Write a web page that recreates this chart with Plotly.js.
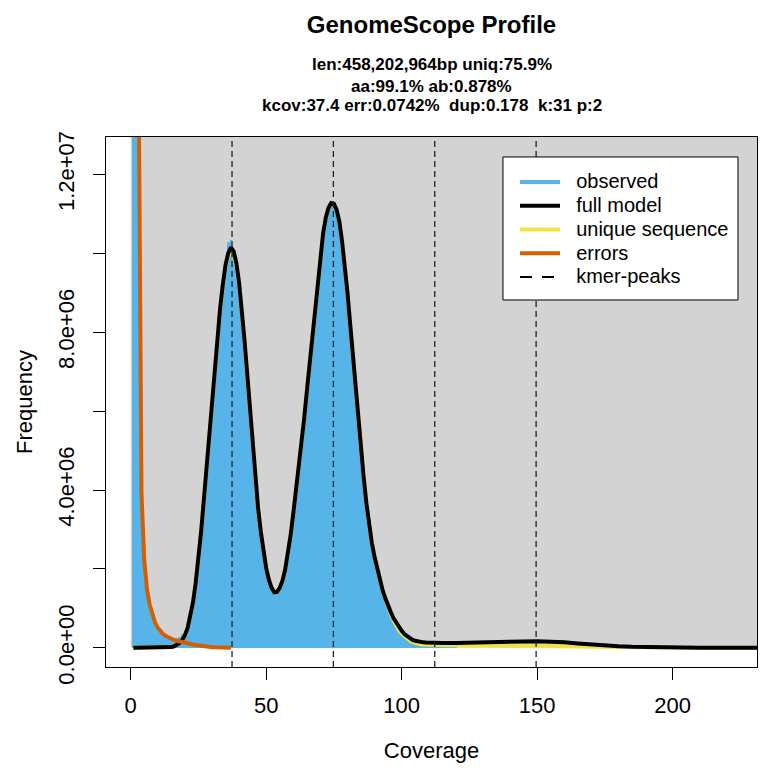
<!DOCTYPE html>
<html>
<head>
<meta charset="utf-8">
<script src="https://cdn.plot.ly/plotly-3.0.1.min.js"></script>
<style>html,body{margin:0;padding:0;background:#fff}#chart{width:770px;height:777px}</style>
</head>
<body>
<div id="chart"></div>
<script>
// ---- data ----
const coverage = [1,2,3,4,5,6,7,8,9,10,11,12,13,14,15,16,17,18,19,20,21,22,23,24,25,26,27,28,29,30,31,32,33,34,35,36,37,38,39,40,41,42,43,44,45,46,47,48,49,50,51,52,53,54,55,56,57,58,59,60,61,62,63,64,65,66,67,68,69,70,71,72,73,74,75,76,77,78,79,80,81,82,83,84,85,86,87,88,89,90,91,92,93,94,95,96,97,98,99,100,101,102,103,104,105,106,107,108,109,110,111,112,113,114,115,116,117,118,119,120];
const observed = [1.5e8,3.6e7,1.45e7,4.0e6,2.3e6,1.52e6,1.11e6,8.3e5,6.4e5,5.1e5,4.2e5,3.5e5,3.0e5,2.65e5,2.4e5,2.3e5,2.4e5,2.8e5,3.4e5,4.5e5,6.1e5,8.8e5,1.23e6,1.72e6,2.31e6,3.0e6,3.79e6,4.63e6,5.47e6,6.31e6,7.11e6,7.9e6,8.6e6,9.2e6,9.72e6,1.028e7,1.034e7,1.003e7,9.73e6,9.23e6,8.58e6,7.78e6,6.93e6,6.03e6,5.18e6,4.28e6,3.53e6,2.93e6,2.43e6,2.0e6,1.7e6,1.5e6,1.39e6,1.4e6,1.5e6,1.68e6,1.96e6,2.33e6,2.83e6,3.38e6,3.93e6,4.48e6,5.08e6,5.78e6,6.48e6,7.18e6,7.88e6,8.53e6,9.18e6,9.83e6,1.048e7,1.088e7,1.113e7,1.125e7,1.123e7,1.108e7,1.078e7,1.028e7,9.73e6,8.98e6,8.18e6,7.38e6,6.53e6,5.78e6,5.03e6,4.28e6,3.63e6,3.08e6,2.63e6,2.28e6,1.98e6,1.68e6,1.43e6,1.23e6,1.03e6,8.8e5,7.3e5,6.1e5,5.0e5,4.1e5,3.35e5,2.75e5,2.3e5,1.95e5,1.72e5,1.55e5,1.45e5,1.37e5,1.32e5,1.28e5,1.26e5,1.25e5,1.24e5,1.24e5,1.23e5,1.23e5,1.22e5,1.22e5,1.22e5,1.22e5];

const modelX = [1,2,3,4,5,6,7,8,9,10,11,12,13,14,15,16,17,18,19,20,21,22,23,24,25,26,27,28,29,30,31,32,33,34,35,36,37,38,39,40,41,42,43,44,45,46,47,48,49,50,51,52,53,54,55,56,57,58,59,60,61,62,63,64,65,66,67,68,69,70,71,72,73,74,75,76,77,78,79,80,81,82,83,84,85,86,87,88,89,90,91,92,93,94,95,96,97,98,99,100,101,102,103,104,105,106,107,108,109,110,115,120,125,130,135,140,145,150,155,160,165,170,175,180,185,190,195,200,210,220,230,240];
const fullModel = [0,0,0,0,0,0,0,0,0,0,0,0,5e3,1e4,2e4,4e4,7e4,1.2e5,2.0e5,3.2e5,5.0e5,7.8e5,1.15e6,1.65e6,2.25e6,2.95e6,3.75e6,4.6e6,5.45e6,6.3e6,7.1e6,7.9e6,8.6e6,9.2e6,9.7e6,1.0e7,1.015e7,1.005e7,9.75e6,9.25e6,8.6e6,7.8e6,6.95e6,6.05e6,5.2e6,4.3e6,3.55e6,2.95e6,2.45e6,2.02e6,1.72e6,1.52e6,1.41e6,1.42e6,1.52e6,1.7e6,1.98e6,2.35e6,2.85e6,3.4e6,3.95e6,4.5e6,5.1e6,5.8e6,6.5e6,7.2e6,7.9e6,8.55e6,9.2e6,9.85e6,1.05e7,1.09e7,1.115e7,1.127e7,1.125e7,1.11e7,1.08e7,1.03e7,9.75e6,9.0e6,8.2e6,7.4e6,6.55e6,5.8e6,5.05e6,4.3e6,3.65e6,3.1e6,2.65e6,2.3e6,2.0e6,1.7e6,1.45e6,1.25e6,1.05e6,9.0e5,7.5e5,6.3e5,5.2e5,4.3e5,3.5e5,2.9e5,2.4e5,2.0e5,1.8e5,1.6e5,1.5e5,1.4e5,1.35e5,1.3e5,1.26e5,1.25e5,1.27e5,1.32e5,1.4e5,1.5e5,1.6e5,1.65e5,1.6e5,1.4e5,1.1e5,8e4,5.5e4,3.8e4,2.5e4,1.6e4,1.1e4,8e3,4e3,2e3,1e3,5e2];
const uniqueSeq = [0,0,0,0,0,0,0,0,0,0,0,0,5e3,1e4,2e4,4e4,7e4,1.2e5,2.0e5,3.2e5,5.0e5,7.8e5,1.15e6,1.65e6,2.25e6,2.95e6,3.75e6,4.6e6,5.45e6,6.3e6,7.1e6,7.9e6,8.58e6,9.16e6,9.65e6,9.93e6,1.006e7,9.97e6,9.68e6,9.2e6,8.57e6,7.78e6,6.94e6,6.05e6,5.2e6,4.3e6,3.55e6,2.95e6,2.45e6,2.02e6,1.72e6,1.52e6,1.41e6,1.42e6,1.52e6,1.7e6,1.98e6,2.35e6,2.85e6,3.4e6,3.95e6,4.5e6,5.1e6,5.8e6,6.5e6,7.2e6,7.9e6,8.55e6,9.2e6,9.85e6,1.05e7,1.09e7,1.115e7,1.127e7,1.125e7,1.11e7,1.08e7,1.03e7,9.75e6,9.0e6,8.2e6,7.4e6,6.55e6,5.8e6,5.05e6,4.3e6,3.65e6,3.1e6,2.65e6,2.3e6,2.0e6,1.7e6,1.45e6,1.24e6,1.01e6,8.5e5,6.9e5,5.6e5,4.5e5,3.6e5,2.9e5,2.3e5,1.85e5,1.5e5,1.25e5,1.05e5,9e4,8.2e4,7.7e4,7.4e4,7e4,6.8e4,6.7e4,6.6e4,6.5e4,6.4e4,6.2e4,6e4,5.5e4,4.5e4,3.5e4,2.8e4,2.2e4,1.7e4,1.3e4,1e4,8e3,6e3,3e3,1.5e3,8e2,4e2];

const errX = [1,2,3,4,5,6,7,8,9,10,11,12,13,14,15,16,17,18,19,20,21,22,23,24,25,26,27,28,29,30,31,32,33,34,35,36,37];
const errors = [1.2e8,3.5e7,1.4e7,3.9e6,2.25e6,1.5e6,1.1e6,8.2e5,6.4e5,5.1e5,4.2e5,3.5e5,3.0e5,2.6e5,2.3e5,2.0e5,1.8e5,1.6e5,1.45e5,1.3e5,1.15e5,1.0e5,8.6e4,7.3e4,6e4,4.8e4,3.8e4,3e4,2.3e4,1.8e4,1.4e4,1.1e4,8e3,6e3,4.5e3,3.5e3,2.5e3];

const kmerPeaks = [37.4, 74.8, 112.2, 149.6];

const xTicks = [0, 50, 100, 150, 200];
const yTicks = [0, 2e6, 4e6, 6e6, 8e6, 1e7, 1.2e7];
const yTickText = ['0.0e+00', '', '4.0e+06', '', '8.0e+06', '', '1.2e+07'];

const titleText = 'GenomeScope Profile';
const subtitleLines = ['len:458,202,964bp uniq:75.9%', 'aa:99.1% ab:0.878%', 'kcov:37.4 err:0.0742%\u00a0 dup:0.178\u00a0 k:31 p:2'];
const seriesNames = ['observed', 'full model', 'unique sequence', 'errors', 'kmer-peaks'];

// ---- styling ----
const FONT = 'Liberation Sans, Arial, Helvetica, sans-serif';
const C_HIST = '#56B4E9', C_FULL = '#000000', C_UNIQ = '#F0E442', C_ERR = '#D55E00', C_BG = '#D3D3D3';
const xRange = [-9.1, 231.1];
const yRange = [-4.85e5, 1.2945e7];
const legendLabel = s => '<span style="font-size:20px">\u00a0\u00a0' + s + '</span>';

const traces = [
  {type: 'bar', x: coverage, y: observed, width: 1.0, marker: {color: C_HIST, line: {width: 0}}, showlegend: false, hoverinfo: 'x+y'},
  {type: 'scatter', mode: 'lines', x: modelX, y: uniqueSeq, line: {color: C_UNIQ, width: 4}, name: legendLabel(seriesNames[2]), legendrank: 3},
  {type: 'scatter', mode: 'lines', x: modelX, y: fullModel, line: {color: C_FULL, width: 4}, name: legendLabel(seriesNames[1]), legendrank: 2},
  {type: 'scatter', mode: 'lines', x: errX, y: errors, line: {color: C_ERR, width: 4}, name: legendLabel(seriesNames[3]), legendrank: 4},
  {type: 'scatter', mode: 'lines', x: [null], y: [null], line: {color: C_HIST, width: 4}, name: legendLabel(seriesNames[0]), legendrank: 1},
  {type: 'scatter', mode: 'lines', x: [null], y: [null], line: {color: '#000', width: 2, dash: '12px,10px'}, name: legendLabel(seriesNames[4]), legendrank: 5}
];

const shapes = [
  {type: 'rect', xref: 'x', yref: 'y', x0: 0, y0: 0, x1: xRange[1], y1: yRange[1], fillcolor: C_BG, line: {width: 0}, layer: 'below'}
];
kmerPeaks.forEach(p => shapes.push({type: 'line', xref: 'x', yref: 'paper', x0: p, x1: p, y0: 0, y1: 1, line: {color: '#222', width: 1.3, dash: '6px,4px'}, layer: 'above'}));
// legend frame (as in R's legend box)
shapes.push({type: 'rect', xref: 'paper', yref: 'paper', x0: 0.6098, x1: 0.9708, y0: 0.6925, y1: 0.9623, fillcolor: '#fff', line: {color: '#000', width: 1}, layer: 'above'});

const annotations = subtitleLines.map((t, i) => ({
  text: t, xref: 'paper', yref: 'paper', x: 0.5, y: [1.1362, 1.0962, 1.0585][i],
  xanchor: 'center', yanchor: 'middle', showarrow: false,
  font: {family: FONT, size: 17, color: '#000', weight: 'bold'}
}));

const layout = {
  width: 770, height: 777,
  margin: {l: 106, r: 13, t: 137, b: 110, pad: 0},
  paper_bgcolor: '#fff', plot_bgcolor: '#fff',
  font: {family: FONT, color: '#000'},
  title: {text: titleText, x: 0.5, xref: 'paper', y: 1 - 25 / 777, yref: 'container', xanchor: 'center', yanchor: 'middle',
          font: {family: FONT, size: 24, weight: 'bold', color: '#000'}},
  bargap: 0,
  xaxis: {range: xRange, tickvals: xTicks, ticktext: xTicks.map(String), ticks: 'outside', ticklen: 12, tickwidth: 1, tickcolor: '#000',
          showline: true, mirror: true, linecolor: '#000', linewidth: 1, showgrid: false, zeroline: false,
          tickfont: {family: FONT, size: 22, color: '#000'}, ticklabelstandoff: 7,
          title: {text: 'Coverage', font: {family: FONT, size: 22, color: '#000'}, standoff: 25}},
  yaxis: {range: yRange, tickvals: yTicks, ticktext: yTickText, ticks: 'outside', ticklen: 12, tickwidth: 1, tickcolor: '#000',
          showline: true, mirror: true, linecolor: '#000', linewidth: 1, showgrid: false, zeroline: false, tickangle: -90,
          tickfont: {family: FONT, size: 22, color: '#000'}, ticklabelstandoff: 10,
          title: {text: 'Frequency', font: {family: FONT, size: 22, color: '#000'}, standoff: 15}},
  showlegend: true,
  legend: {x: 0.6283, y: 0.9472, xanchor: 'left', yanchor: 'top', bgcolor: 'rgba(0,0,0,0)', borderwidth: 0,
           font: {family: FONT, size: 16, color: '#000'}, itemwidth: 40, tracegroupgap: 0, traceorder: 'normal'},
  shapes: shapes,
  annotations: annotations
};

Plotly.newPlot('chart', traces, layout, {displayModeBar: false, staticPlot: true});
</script>
</body>
</html>
